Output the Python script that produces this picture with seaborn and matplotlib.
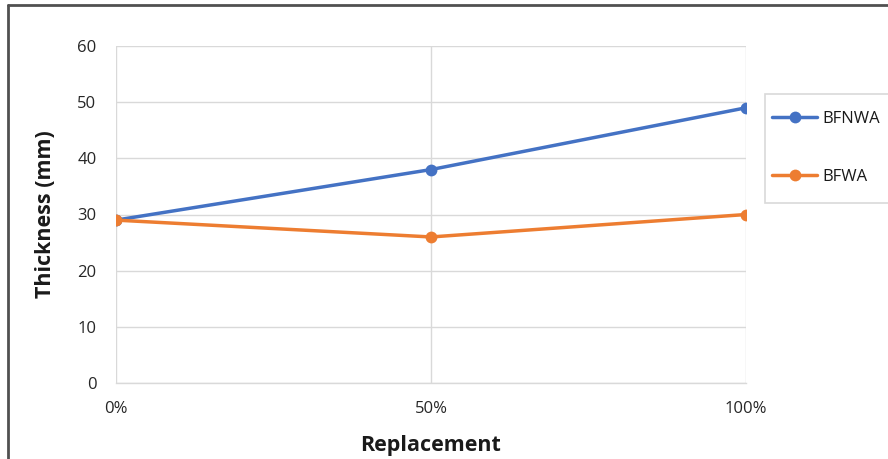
import matplotlib
matplotlib.use("Agg")
import matplotlib.pyplot as plt
from matplotlib.lines import Line2D
from matplotlib.patches import Rectangle
import seaborn as sns
import pandas as pd

categories = ["0%", "50%", "100%"]
bfnwa = [29, 38, 49]
bfwa = [29, 26, 30]
series_names = ["BFNWA", "BFWA"]
colors = ["#4472C4", "#ED7D31"]

df = pd.DataFrame({
    "Replacement": list(range(len(categories))) * 2,
    "Thickness": bfnwa + bfwa,
    "Series": [series_names[0]] * 3 + [series_names[1]] * 3,
})

sns.set_theme(style="white")
plt.rcParams["font.family"] = ["Open Sans", "DejaVu Sans"]

W, H = 888, 459
fig = plt.figure(figsize=(W / 100, H / 100), dpi=100)
ax = fig.add_axes([116 / W, 1 - 383 / H, (746 - 116) / W, (383 - 46) / H])

sns.lineplot(data=df, x="Replacement", y="Thickness", hue="Series",
             palette=colors, marker="o", markersize=8.5, markeredgewidth=0,
             linewidth=2.5, ax=ax, legend=False)

ax.set_xlim(0, 2)
ax.set_ylim(0, 60)
ax.set_yticks(range(0, 61, 10))
ax.set_xticks(range(len(categories)))
ax.set_xticklabels(categories)
ax.grid(True, color="#d9d9d9", linewidth=1)
ax.set_axisbelow(True)
for side in ["top", "right", "left"]:
    ax.spines[side].set_visible(False)
ax.spines["bottom"].set_color("#d9d9d9")
ax.spines["bottom"].set_linewidth(1)
ax.tick_params(axis="both", length=0, labelsize=12)
ax.tick_params(axis="y", pad=14)
ax.tick_params(axis="x", pad=13)
for lbl in ax.get_xticklabels() + ax.get_yticklabels():
    lbl.set_color("#262626")

ax.set_xlabel("Replacement", fontsize=15.5, fontweight="bold", color="#1a1a1a", labelpad=13)
ax.set_ylabel("Thickness (mm)", fontsize=15.5, fontweight="bold", color="#1a1a1a", labelpad=15)

# legend frame, running off the right edge
fig.add_artist(Rectangle((765 / W, 1 - 203 / H), 140 / W, 109 / H,
                         transform=fig.transFigure, facecolor="white",
                         edgecolor="#d9d9d9", linewidth=1.2))
handles = [Line2D([0], [0], color=c, marker="o", markersize=8.5, linewidth=2.5,
                  markeredgewidth=0) for c in colors]
leg = fig.legend(handles, series_names, loc="center left",
                 bbox_to_anchor=(772 / W, 1 - 148 / H), frameon=False,
                 fontsize=12, labelspacing=2.5, handlelength=2.7,
                 handletextpad=0.3, borderpad=0, borderaxespad=0)
for t in leg.get_texts():
    t.set_color("#1a1a1a")

# outer frame lines along the top and left edges
fig.add_artist(Line2D([8 / W, 1], [1 - 5 / H, 1 - 5 / H],
                      transform=fig.transFigure, color="#505050", linewidth=2))
fig.add_artist(Line2D([8 / W, 8 / W], [0, 1 - 5 / H],
                      transform=fig.transFigure, color="#505050", linewidth=2))

fig.savefig("out.png", dpi=100)
